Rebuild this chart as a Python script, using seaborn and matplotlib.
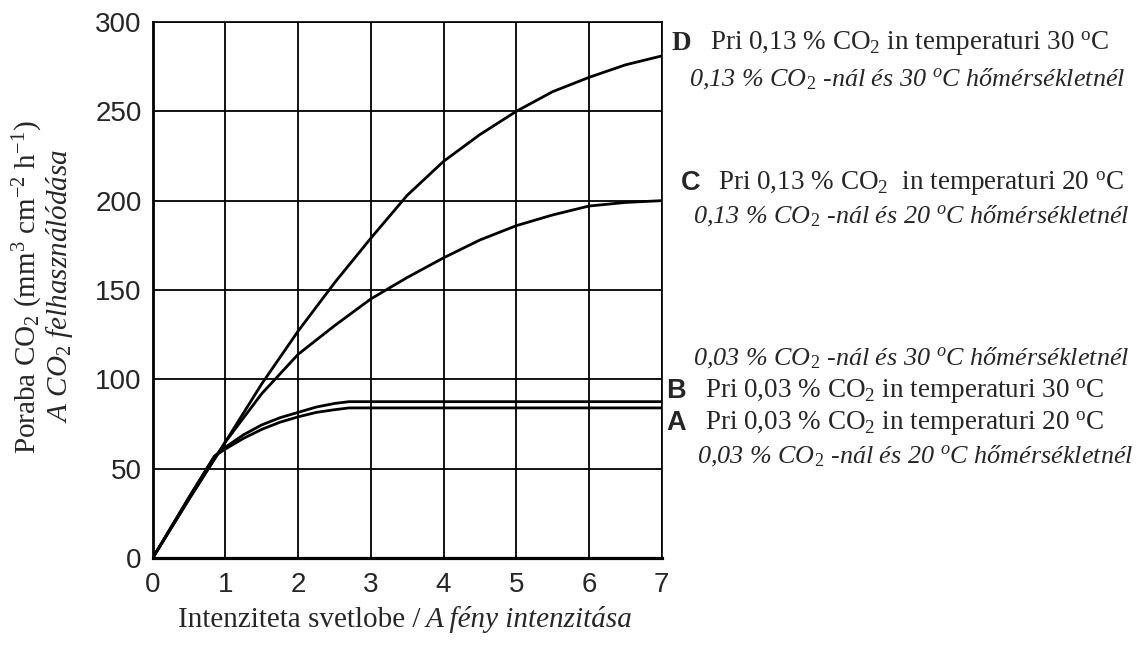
import matplotlib
matplotlib.use("Agg")
import matplotlib.pyplot as plt
import seaborn as sns
import pandas as pd

# ---- data ----
x_ab = [0, 0.5, 0.85, 1.0, 1.25, 1.5, 1.75, 2.0, 2.25, 2.5, 2.7, 7]
y_a = [0, 34, 57, 61, 67, 72, 76, 79, 81.5, 83, 84, 84]
y_b = [0, 34, 57, 62, 69, 74.5, 78.5, 81.5, 84.5, 86.5, 87.5, 87.5]
x_cd = [0, 0.5, 1, 1.5, 2, 2.5, 3, 3.5, 4, 4.5, 5, 5.5, 6, 6.5, 7]
y_c = [0, 33, 65, 92, 114, 130, 145, 157, 168, 178, 186, 192, 197, 199, 200]
y_d = [0, 33, 65, 97.5, 127, 154, 179, 203, 222, 237, 250, 261, 269, 276, 281]
x_ticks = [0, 1, 2, 3, 4, 5, 6, 7]
y_ticks = [0, 50, 100, 150, 200, 250, 300]

sns.set_theme(style="white")
plt.rcParams['font.family'] = ['Liberation Serif', 'DejaVu Serif']
plt.rcParams['mathtext.fontset'] = 'custom'
plt.rcParams['mathtext.rm'] = 'Liberation Serif'
plt.rcParams['mathtext.it'] = 'Liberation Serif:italic'
plt.rcParams['mathtext.bf'] = 'Liberation Serif:bold'

W, H = 1148, 657
fig = plt.figure(figsize=(W / 100, H / 100), dpi=100)
fig.patch.set_facecolor('white')
ax = fig.add_axes([152.7 / W, 1 - 558 / H, (661.7 - 152.7) / W, (558 - 22) / H])

series = [(x_ab, y_a), (x_ab, y_b), (x_cd, y_c), (x_cd, y_d)]
for xs, ys in series:
    df = pd.DataFrame({"x": xs, "y": ys})
    sns.lineplot(data=df, x="x", y="y", ax=ax, color="black", lw=2.0,
                 sort=False, estimator=None, legend=False, zorder=3)

ax.set_xlim(0, 7)
ax.set_ylim(0, 300)
ax.set_xticks(x_ticks)
ax.set_yticks(y_ticks)
ax.set_xticklabels([str(v) for v in x_ticks], fontfamily='Liberation Sans', fontsize=20)
ax.set_yticklabels([str(v) for v in y_ticks], fontfamily='Liberation Sans', fontsize=20)
ax.tick_params(axis='y', length=0, pad=8)
ax.tick_params(axis='x', length=0, pad=10)
ax.grid(True, color='black', lw=1.3)
ax.set_axisbelow(True)
ax.set_xlabel("")
ax.set_ylabel("")
for side, lw in [('left', 2.0), ('bottom', 2.3), ('top', 1.2), ('right', 1.2)]:
    ax.spines[side].set_visible(True)
    ax.spines[side].set_color('black')
    ax.spines[side].set_linewidth(lw)


def ft(x, y, s, **kw):
    fig.text(x / W, 1 - y / H, s, **kw)


fs = 19.5
fi = 18.8
fl = 21
# y label
ft(28, 287, r"Poraba CO$_2$ (mm$^3$ cm$^{-2}$ h$^{-1}$)", rotation=90, ha='center', va='center', fontsize=fl)
ft(60, 286, r"A CO$_2$ felhasználódása", rotation=90, ha='center', va='center', fontsize=fl, style='italic')

# x label
ft(421, 627, "Intenziteta svetlobe /", ha='right', va='baseline', fontsize=fl)
ft(426, 627, "A fény intenzitása", ha='left', va='baseline', fontsize=fl, style='italic')

# annotations
ft(672, 50, "D", ha='left', va='baseline', fontsize=fs, fontweight='bold')
ft(710, 50, r"Pri 0,13 % CO$_2$ in temperaturi 30 $^\mathrm{o}$C", ha='left', va='baseline', fontsize=fs)
ft(689, 86, r"0,13 % CO$_2$ -nál és 30 $^{o}$C hőmérsékletnél", ha='left', va='baseline', fontsize=fi, style='italic')

ft(681, 190, "C", ha='left', va='baseline', fontsize=fs, fontweight='bold', family='Liberation Sans')
ft(718, 190, r"Pri 0,13 % CO$_2$  in temperaturi 20 $^\mathrm{o}$C", ha='left', va='baseline', fontsize=fs)
ft(693, 223, r"0,13 % CO$_2$ -nál és 20 $^{o}$C hőmérsékletnél", ha='left', va='baseline', fontsize=fi, style='italic')

ft(693, 365, r"0,03 % CO$_2$ -nál és 30 $^{o}$C hőmérsékletnél", ha='left', va='baseline', fontsize=fi, style='italic')
ft(666, 398, "B", ha='left', va='baseline', fontsize=fs, fontweight='bold', family='Liberation Sans')
ft(705, 398, r"Pri 0,03 % CO$_2$ in temperaturi 30 $^\mathrm{o}$C", ha='left', va='baseline', fontsize=fs)
ft(666, 430, "A", ha='left', va='baseline', fontsize=fs, fontweight='bold', family='Liberation Sans')
ft(705, 430, r"Pri 0,03 % CO$_2$ in temperaturi 20 $^\mathrm{o}$C", ha='left', va='baseline', fontsize=fs)
ft(697, 463, r"0,03 % CO$_2$ -nál és 20 $^{o}$C hőmérsékletnél", ha='left', va='baseline', fontsize=fi, style='italic')

fig.savefig("out.png", dpi=100, facecolor='white')
